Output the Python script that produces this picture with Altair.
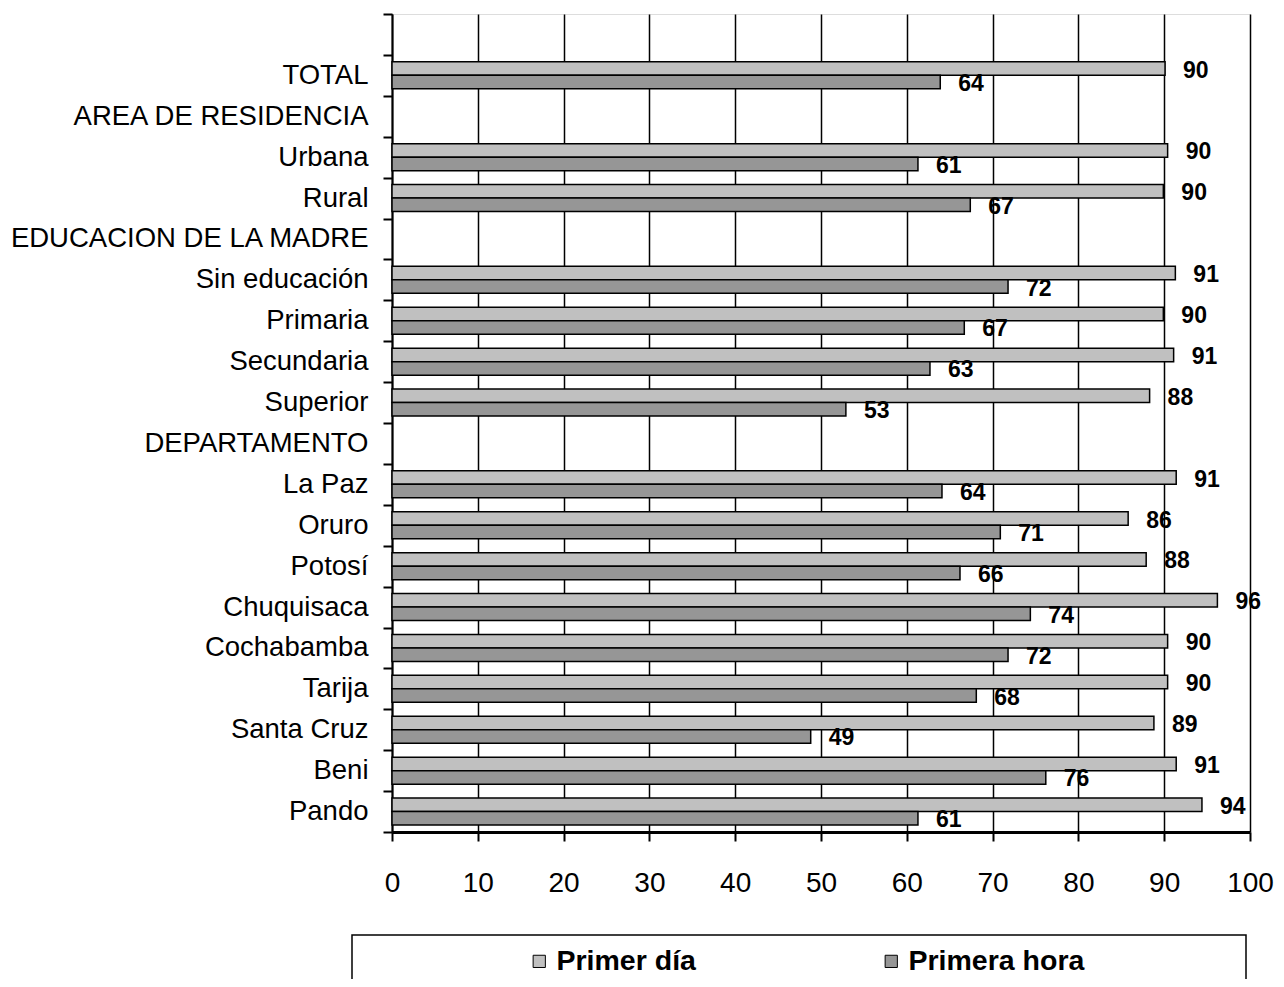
import altair as alt
import pandas as pd

FONT = "Liberation Sans"

categories = [" ", "TOTAL", "AREA DE RESIDENCIA", "Urbana", "Rural",
              "EDUCACION DE LA MADRE", "Sin educación", "Primaria", "Secundaria",
              "Superior", "DEPARTAMENTO", "La Paz", "Oruro", "Potosí",
              "Chuquisaca", "Cochabamba", "Tarija", "Santa Cruz", "Beni", "Pando"]

primer_dia = [None, 90.1, None, 90.4, 89.9, None, 91.3, 89.9, 91.1, 88.3,
              None, 91.4, 85.8, 87.9, 96.2, 90.4, 90.4, 88.8, 91.4, 94.4]
primera_hora = [None, 63.9, None, 61.3, 67.4, None, 71.8, 66.7, 62.7, 52.9,
                None, 64.1, 70.9, 66.2, 74.4, 71.8, 68.1, 48.8, 76.2, 61.3]

series = ["Primer día", "Primera hora"]
colors = ["#C0C0C0", "#969696"]
x_ticks = [0, 10, 20, 30, 40, 50, 60, 70, 80, 90, 100]

rows = []
for c, a, b in zip(categories, primer_dia, primera_hora):
    if a is not None:
        rows.append({"cat": c, "serie": series[0], "valor": a})
    if b is not None:
        rows.append({"cat": c, "serie": series[1], "valor": b})
df = pd.DataFrame(rows)

y_enc = alt.Y("cat:N", scale=alt.Scale(domain=categories, paddingInner=0, paddingOuter=0),
              axis=alt.Axis(title=None, tickBand="extent", labelFontSize=27.5, labelFont=FONT,
                            labelColor="black", labelPadding=15, tickSize=9, tickColor="black",
                            tickWidth=2, domainColor="black", domainWidth=2, grid=False,
                            labelLimit=400))
yoff_enc = alt.YOffset("serie:N", sort=series,
                       scale=alt.Scale(domain=series, paddingInner=0, paddingOuter=0.515))
x_enc = alt.X("valor:Q", scale=alt.Scale(domain=[0, 100], nice=False),
              axis=alt.Axis(title=None, values=x_ticks, labelFontSize=28, labelFont=FONT,
                            labelColor="black", labelPadding=28, labelFlush=False,
                            tickSize=9, tickColor="black",
                            tickWidth=2, domainColor="black", domainWidth=3, grid=True,
                            gridColor="black", gridWidth=1.5, gridOpacity=1))

bars = alt.Chart(df).mark_bar(stroke="black", strokeWidth=1.5).encode(
    y=y_enc, yOffset=yoff_enc, x=x_enc,
    color=alt.Color("serie:N", sort=series,
                    scale=alt.Scale(domain=series, range=colors),
                    legend=alt.Legend(title=None, orient="none", direction="horizontal",
                                      legendX=133, legendY=933, symbolType="square",
                                      symbolSize=150, symbolStrokeColor="black",
                                      symbolStrokeWidth=1, labelFontSize=28.5,
                                      labelFont=FONT, labelFontWeight="bold",
                                      labelColor="black", columnPadding=181,
                                      labelOffset=3, labelLimit=400))
)

labels = alt.Chart(df).mark_text(align="left", baseline="middle", dx=18, dy=2,
                                 fontSize=23, fontWeight="bold", font=FONT,
                                 color="black").encode(
    y=alt.Y("cat:N", scale=alt.Scale(domain=categories, paddingInner=0, paddingOuter=0)),
    yOffset=alt.YOffset("serie:N", sort=series,
                        scale=alt.Scale(domain=series, paddingInner=0, paddingOuter=0.515)),
    x=alt.X("valor:Q"),
    text=alt.Text("valor:Q", format=".0f"),
)

box = alt.Chart(pd.DataFrame({"k": [0]})).mark_rect(
    fillOpacity=0, stroke="black", strokeWidth=1.5
).encode(x=alt.value(-40), x2=alt.value(854), y=alt.value(921), y2=alt.value(1000))

chart = alt.layer(bars, labels, box).properties(
    width=858, height=818,
    autosize=alt.AutoSizeParams(type="none"),
    padding={"left": 384, "top": 6, "right": 26, "bottom": 147},
).configure_view(stroke="black", strokeWidth=2).configure(background="white")

chart.save("out.html", embed_options={"renderer": "svg", "actions": False})
